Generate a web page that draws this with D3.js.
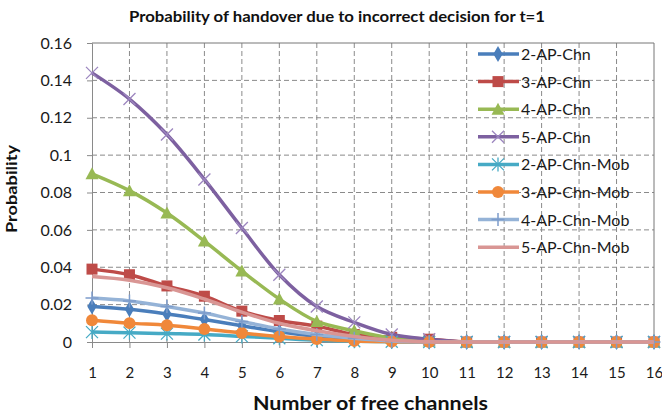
<!DOCTYPE html>
<html>
<head>
<meta charset="utf-8">
<script src="https://cdn.jsdelivr.net/npm/d3@7"></script>
<style>
	body { margin: 0; background: #fff; }
	text { font-family: Lato, "Open Sans", sans-serif; }
</style>
</head>
<body>
<svg id="chart" width="662" height="415"></svg>
<script>
// number of free channels
var channels = [1, 2, 3, 4, 5, 6, 7, 8, 9, 10, 11, 12, 13, 14, 15, 16]

// probability values
var ap2_chn = [0.019, 0.0175, 0.015, 0.012, 0.0087, 0.0055, 0.003, 0.0012, 0.0004, 0.0001, 0, 0, 0, 0, 0, 0]
var ap3_chn = [0.039, 0.036, 0.030, 0.0245, 0.0165, 0.0115, 0.0085, 0.004, 0.0025, 0.0015, 0, 0, 0, 0, 0, 0]
var ap4_chn = [0.09, 0.081, 0.069, 0.054, 0.038, 0.023, 0.011, 0.006, 0.002, 0.0005, 0, 0, 0, 0, 0, 0]
var ap5_chn = [0.144, 0.13, 0.111, 0.087, 0.061, 0.036, 0.019, 0.0105, 0.004, 0.0015, 0, 0, 0, 0, 0, 0]
var ap2_mob = [0.0053, 0.005, 0.0045, 0.004, 0.003, 0.002, 0.001, 0.0004, 0.0001, 0, 0, 0, 0, 0, 0, 0]
var ap3_mob = [0.0117, 0.0101, 0.009, 0.007, 0.0048, 0.003, 0.0016, 0.0006, 0.0002, 0, 0, 0, 0, 0, 0, 0]
var ap4_mob = [0.0235, 0.022, 0.019, 0.0155, 0.011, 0.007, 0.004, 0.002, 0.0006, 0.0001, 0, 0, 0, 0, 0, 0]
var ap5_mob = [0.035, 0.033, 0.029, 0.023, 0.016, 0.010, 0.006, 0.003, 0.001, 0.0002, 0, 0, 0, 0, 0, 0]

var series_names = ["2-AP-Chn", "3-AP-Chn", "4-AP-Chn", "5-AP-Chn", "2-AP-Chn-Mob", "3-AP-Chn-Mob", "4-AP-Chn-Mob", "5-AP-Chn-Mob"]
var series_values = [ap2_chn, ap3_chn, ap4_chn, ap5_chn, ap2_mob, ap3_mob, ap4_mob, ap5_mob]

var y_ticks = [0, 0.02, 0.04, 0.06, 0.08, 0.1, 0.12, 0.14, 0.16]
var y_tick_labels = ["0", "0.02", "0.04", "0.06", "0.08", "0.1", "0.12", "0.14", "0.16"]

// styles per series
var line_colors = ["#4A7EBB", "#BE4B48", "#98B954", "#7D60A0", "#46AAC5", "#F0883A", "#95B3D7", "#D99694"]
var marker_types = ["diamond", "square", "triangle", "cross", "star", "circle", "plus", "none"]

var svg = d3.select("#chart")
var plot_left = 92, plot_right = 654, plot_top = 43, plot_bottom = 342

var xScale = d3.scalePoint().domain(channels).range([plot_left, plot_right])
var yScale = d3.scaleLinear().domain([0, 0.16]).range([plot_bottom, plot_top])

// title
svg.append("text")
	.attr("x", 129)
	.attr("y", 22)
	.attr("font-size", "16px")
	.attr("font-weight", "bold")
	.attr("fill", "#111")
	.attr("textLength", 416)
	.attr("lengthAdjust", "spacingAndGlyphs")
	.text("Probability of handover due to incorrect decision for t=1")

// grid
var grid = svg.append("g")
grid.selectAll(".hgrid")
	.data(y_ticks.slice(1, -1))
	.enter().append("line")
	.attr("x1", plot_left).attr("x2", plot_right)
	.attr("y1", function(d) { return yScale(d) })
	.attr("y2", function(d) { return yScale(d) })
	.attr("stroke", "#8a8a8a")
	.attr("stroke-dasharray", "5,3")
grid.selectAll(".vgrid")
	.data(channels.slice(1, -1))
	.enter().append("line")
	.attr("y1", plot_top).attr("y2", plot_bottom)
	.attr("x1", function(d) { return xScale(d) })
	.attr("x2", function(d) { return xScale(d) })
	.attr("stroke", "#8a8a8a")
	.attr("stroke-dasharray", "5,3")

// plot area border (top and right)
svg.append("path")
	.attr("d", "M" + plot_left + "," + plot_top + "H" + plot_right + "V" + plot_bottom)
	.attr("fill", "none")
	.attr("stroke", "#777")

// axes
svg.append("g")
	.attr("transform", "translate(" + plot_left + ",0)")
	.call(d3.axisLeft(yScale).tickValues(y_ticks).tickSize(5).tickPadding(15)
		.tickFormat(function(d, i) { return y_tick_labels[i] }))
	.selectAll("text").attr("font-size", "16px")
svg.append("g")
	.attr("transform", "translate(0," + plot_bottom + ")")
	.call(d3.axisBottom(xScale).tickSize(6).tickPadding(19))
	.selectAll("text").attr("font-size", "15px")

svg.selectAll(".domain, .tick line").attr("stroke", "#8a8a8a")
svg.selectAll(".tick text")
	.attr("font-family", "Lato, sans-serif")
	.attr("fill", "#1a1a1a")

// axis titles
svg.append("text")
	.attr("x", 253)
	.attr("y", 410)
	.attr("font-size", "18px")
	.attr("font-weight", "bold")
	.attr("fill", "#111")
	.attr("textLength", 235)
	.attr("lengthAdjust", "spacingAndGlyphs")
	.text("Number of free channels")

svg.append("text")
	.attr("transform", "translate(17,233) rotate(-90)")
	.attr("font-size", "16px")
	.attr("font-weight", "bold")
	.attr("fill", "#111")
	.attr("textLength", 88)
	.attr("lengthAdjust", "spacingAndGlyphs")
	.text("Probability")

// draws one marker of the given type at 0,0 of the group
function draw_marker(g, type, color) {
	if (type == "diamond") {
		g.append("path").attr("d", d3.symbol(d3.symbolDiamond, 75)()).attr("fill", color)
	}
	else if (type == "square") {
		g.append("rect").attr("x", -5.5).attr("y", -5.5).attr("width", 11).attr("height", 11).attr("fill", color)
	}
	else if (type == "triangle") {
		g.append("path").attr("d", "M0,-6.5L6.5,5.5L-6.5,5.5Z").attr("fill", color)
	}
	else if (type == "circle") {
		g.append("circle").attr("r", 6).attr("fill", color)
	}
	else if (type == "cross" || type == "star") {
		g.append("path").attr("d", "M-6,-6L6,6M-6,6L6,-6" + (type == "star" ? "M0,-7V7" : ""))
			.attr("stroke", type == "cross" ? "#9C86BF" : color)
			.attr("stroke-width", 1.3)
	}
	else if (type == "plus") {
		g.append("path").attr("d", "M0,-6.5V6.5M-6.5,0H6.5").attr("stroke", "#7D9CCB").attr("stroke-width", 1.5)
	}
}

// lines with markers, in series order
var line = d3.line()
	.x(function(d, i) { return xScale(channels[i]) })
	.y(function(d) { return yScale(d) })
	.curve(d3.curveCatmullRom.alpha(0.5))

for (let s = 0; s < series_values.length; s++) {
	var sg = svg.append("g")
	sg.append("path")
		.datum(series_values[s])
		.attr("d", line)
		.attr("fill", "none")
		.attr("stroke", line_colors[s])
		.attr("stroke-width", 3.5)
	sg.selectAll(".marker")
		.data(series_values[s])
		.enter().append("g")
		.attr("transform", function(d, i) { return "translate(" + xScale(channels[i]) + "," + yScale(d) + ")" })
		.each(function() { draw_marker(d3.select(this), marker_types[s], line_colors[s]) })
}

// legend
for (let s = 0; s < series_names.length; s++) {
	var ly = 54 + s * 27.6
	var lg = svg.append("g")
	lg.append("line")
		.attr("x1", 478).attr("x2", 519)
		.attr("y1", ly).attr("y2", ly)
		.attr("stroke", line_colors[s])
		.attr("stroke-width", 3.5)
	var mg = lg.append("g").attr("transform", "translate(498," + ly + ")")
	draw_marker(mg, marker_types[s], line_colors[s])
	lg.append("text")
		.attr("x", 521)
		.attr("y", ly + 6)
		.attr("font-size", "16px")
		.attr("fill", "#1a1a1a")
		.text(series_names[s])
}
</script>
</body>
</html>
